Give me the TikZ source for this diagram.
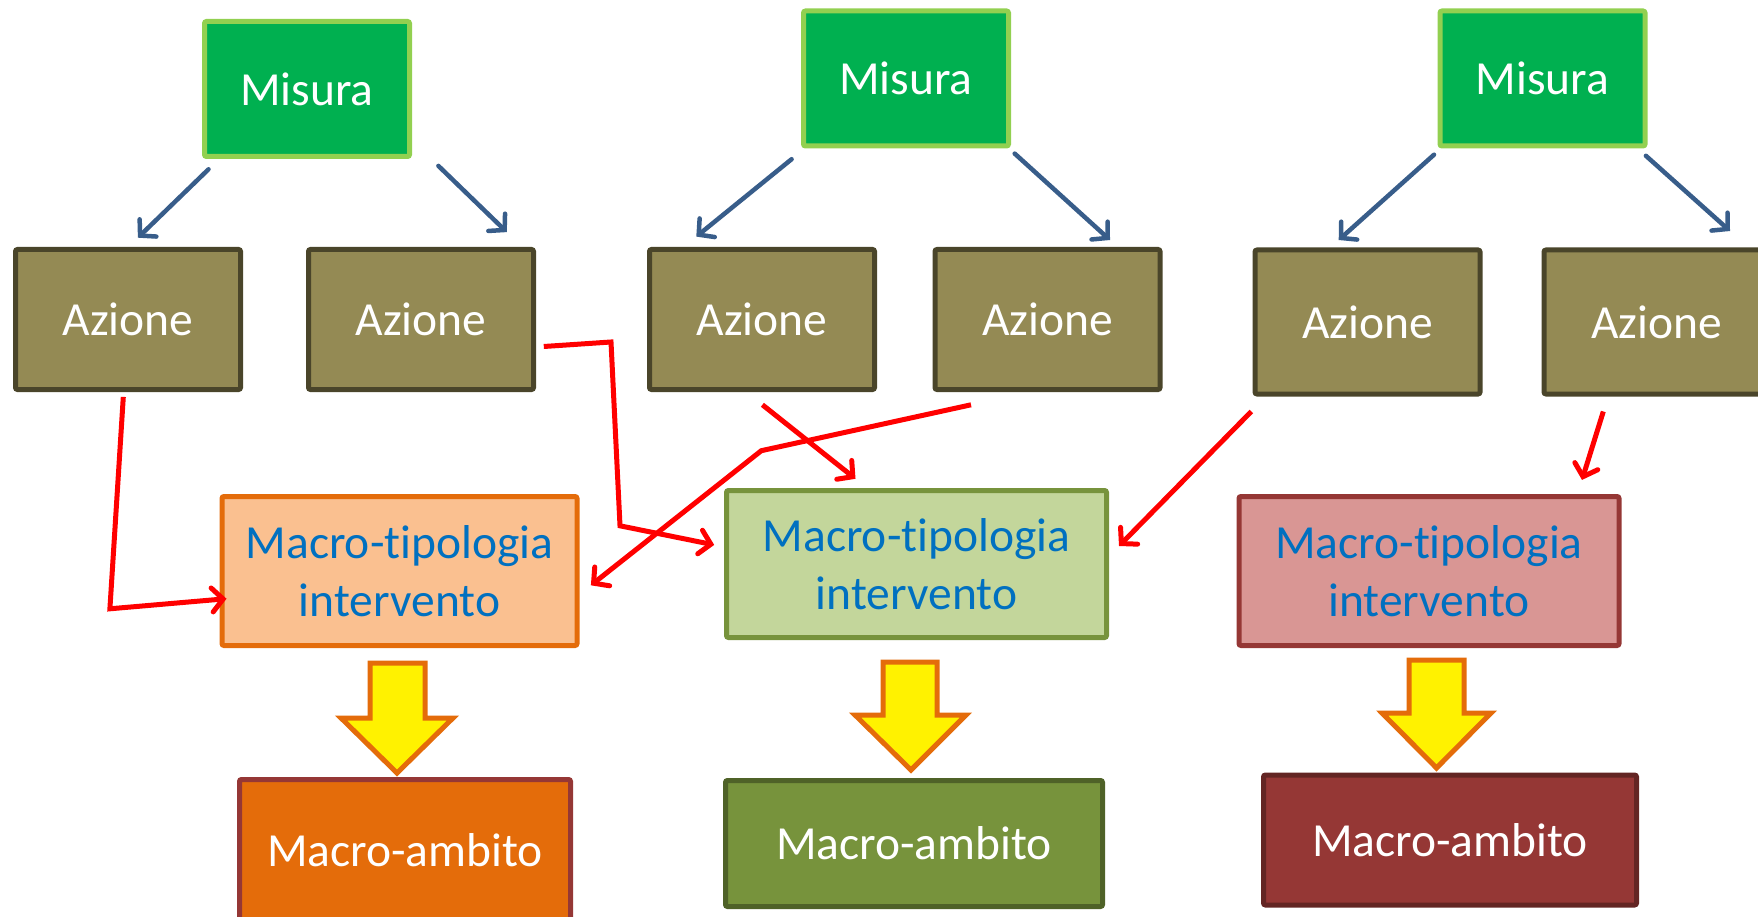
\documentclass[tikz,border=0pt]{standalone}
\usepackage{fontspec}
\setmainfont{Carlito}[Ligatures=NoCommon]
\usetikzlibrary{arrows.meta}
\definecolor{misfill}{HTML}{00B050}
\definecolor{misdraw}{HTML}{92D050}
\definecolor{azfill}{HTML}{948A54}
\definecolor{azdraw}{HTML}{4A452A}
\definecolor{mtAfill}{HTML}{FAC090}
\definecolor{mtAdraw}{HTML}{E46C0A}
\definecolor{mtBfill}{HTML}{C3D69B}
\definecolor{mtBdraw}{HTML}{77933C}
\definecolor{mtCfill}{HTML}{D99694}
\definecolor{mtCdraw}{HTML}{953735}
\definecolor{maAfill}{HTML}{E46C0A}
\definecolor{maAdraw}{HTML}{953735}
\definecolor{maBfill}{HTML}{77933C}
\definecolor{maBdraw}{HTML}{4F6228}
\definecolor{maCfill}{HTML}{953735}
\definecolor{maCdraw}{HTML}{632523}
\definecolor{arrblue}{HTML}{385D8A}
\definecolor{mttext}{HTML}{0070C0}
\definecolor{yarrdraw}{HTML}{E46C0A}
\tikzset{
  boxbase/.style={rectangle, rounded corners=2pt, line width=5pt, inner sep=0pt,
    font=\fontsize{47.5}{58}\selectfont, align=center},
  misura/.style={boxbase, fill=misfill, draw=misdraw, text=white,
    minimum width=205pt, minimum height=135pt},
  azione/.style={boxbase, fill=azfill, draw=azdraw, text=white,
    minimum width=225pt, minimum height=140pt},
  mtip/.style={boxbase, text=mttext, minimum height=149pt},
  mamb/.style={boxbase, text=white},
  bluearr/.style={draw=arrblue, line width=4.5pt, line cap=round,
    -{Straight Barb[length=11pt,width=24pt,line cap=round]}},
  redarr/.style={draw=red, line width=5pt,
    -{Straight Barb[length=11pt,width=24pt,line cap=round]}},
  yarrow/.style={fill=yellow, draw=yarrdraw, line width=5pt, line join=miter}
}
\begin{document}
\begin{tikzpicture}[x=1pt,y=-1pt]
\useasboundingbox (0,0) rectangle (1758,917);
\clip (0,0) rectangle (1758,917);

% Misura
\node[misura] (m1) at (307,89) {Misura};
\node[misura] (m2) at (906,78.5) {Misura};
\node[misura] (m3) at (1542.5,78.5) {Misura};

% Azione
\node[azione] (a1) at (128,319.5) {Azione};
\node[azione] (a2) at (421,319.5) {Azione};
\node[azione] (a3) at (762,319.5) {Azione};
\node[azione] (a4) at (1047.5,319.5) {Azione};
\node[azione, minimum height=144pt] (a5) at (1367.5,322) {Azione};
\node[azione, minimum height=144pt] (a6) at (1656.5,322) {Azione};

% Macro-tipologia
\node[mtip, fill=mtAfill, draw=mtAdraw, minimum width=355pt] (t1) at (399.5,571) {Macro-tipologia\\intervento};
\node[mtip, fill=mtBfill, draw=mtBdraw, minimum width=380pt, minimum height=147pt] (t2) at (916.5,564) {Macro-tipologia\\intervento};
\node[mtip, fill=mtCfill, draw=mtCdraw, minimum width=380pt] (t3) at (1429,571) {Macro-tipologia\\intervento};

% Macro-ambito
\node[mamb, fill=maAfill, draw=maAdraw, minimum width=331pt, minimum height=141pt] (b1) at (405,850) {Macro-ambito};
\node[mamb, fill=maBfill, draw=maBdraw, minimum width=377pt, minimum height=126pt] (b2) at (914,843.5) {Macro-ambito};
\node[mamb, fill=maCfill, draw=maCdraw, minimum width=373pt, minimum height=130pt] (b3) at (1450,840) {Macro-ambito};

% Yellow block arrows
\draw[yarrow] (370,663) -- (425,663) -- (425,718) -- (453,718) -- (397,773) -- (341,718) -- (370,718) -- cycle;
\draw[yarrow] (883,662) -- (937,662) -- (937,715) -- (966,715) -- (911,770) -- (855,715) -- (883,715) -- cycle;
\draw[yarrow] (1409,660) -- (1464,660) -- (1464,713) -- (1491,713) -- (1436.5,768) -- (1382,713) -- (1409,713) -- cycle;

% Blue arrow end points
\coordinate (m1l) at (208.5,169.3); \coordinate (a1t) at (137.9,237.7);
\coordinate (m1r) at (438.4,165.9); \coordinate (a2t) at (506.8,232.1);
\coordinate (m2l) at (791.6,159.2); \coordinate (a3t) at (696.3,236.6);
\coordinate (m2r) at (1014.7,153.6); \coordinate (a4t) at (1110,240);
\coordinate (m3l) at (1434,154.7); \coordinate (a5t) at (1338.7,240);
\coordinate (m3r) at (1645.9,155.8); \coordinate (a6t) at (1730,231);
\draw[bluearr] (m1l) -- (a1t);
\draw[bluearr] (m1r) -- (a2t);
\draw[bluearr] (m2l) -- (a3t);
\draw[bluearr] (m2r) -- (a4t);
\draw[bluearr] (m3l) -- (a5t);
\draw[bluearr] (m3r) -- (a6t);

% Red connector points
\coordinate (r1s) at (123.3,396.9); \coordinate (r1e) at (226.5,598.7);
\coordinate (r2s) at (543.8,346.5); \coordinate (r2e) at (714.2,544.9);
\coordinate (r3s) at (762.4,404.8); \coordinate (r3e) at (855.5,478.8);
\coordinate (r4s) at (971,404.8);   \coordinate (r4e) at (590.9,585.3);
\coordinate (r5s) at (1251.3,411.5); \coordinate (r5e) at (1119,546);
\coordinate (r6s) at (1603.3,411.5); \coordinate (r6e) at (1582,479.9);
\draw[redarr] (r1s) -- (109.9,608.8) -- (r1e);
\draw[redarr] (r2s) -- (611,342) -- (620,525.8) -- (r2e);
\draw[redarr] (r3s) -- (r3e);
\draw[redarr] (r4s) -- (761.3,450.7) -- (r4e);
\draw[redarr] (r5s) -- (r5e);
\draw[redarr] (r6s) -- (r6e);
\end{tikzpicture}
\end{document}
